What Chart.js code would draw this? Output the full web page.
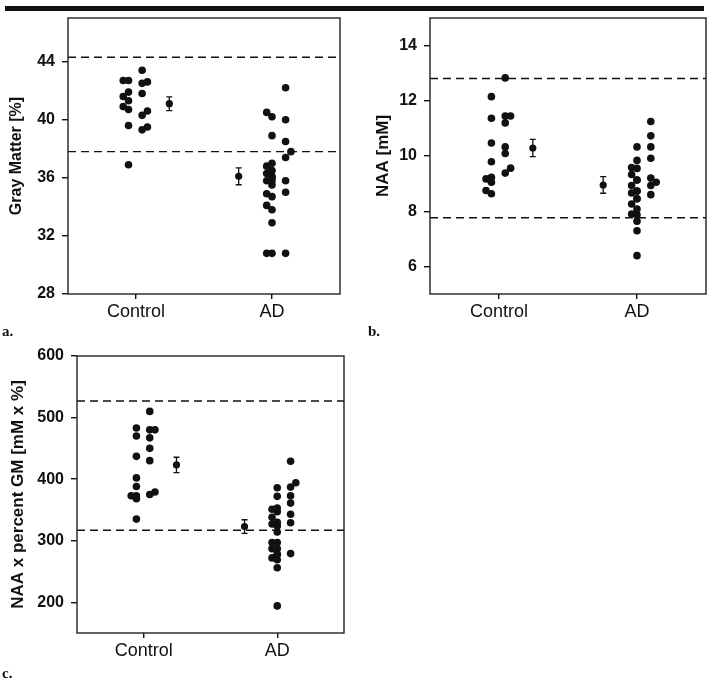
<!DOCTYPE html>
<html><head><meta charset="utf-8">
<script src="https://cdn.jsdelivr.net/npm/chart.js@4.4.1/dist/chart.umd.min.js"></script>
<style>
html,body{margin:0;padding:0;background:#fff;width:714px;height:682px;overflow:hidden;position:relative}
.bar{position:absolute;left:5px;top:6px;width:699px;height:5px;background:#111}
.panel{position:absolute}
.lab{position:absolute;font:bold 15px "Liberation Serif",serif;color:#111}
</style></head><body>
<div class="bar"></div>
<div class="panel" style="left:0;top:0"><canvas id="ca" width="350" height="330"></canvas></div>
<div class="panel" style="left:362px;top:0"><canvas id="cb" width="350" height="330"></canvas></div>
<div class="panel" style="left:0;top:338px"><canvas id="cc" width="350" height="332"></canvas></div>
<div class="lab" style="left:2px;top:323px">a.</div>
<div class="lab" style="left:368px;top:323px">b.</div>
<div class="lab" style="left:2px;top:665px">c.</div>
<script>
// ---------- data ----------
const categories = ['Control', 'AD'];

// a. Gray Matter [%]
const gmControlCol1 = [42.7, 42.7, 41.9, 41.6, 41.3, 40.9, 40.7, 39.6, 36.9];
const gmControlCol2 = [43.4, 42.6, 42.5, 41.8, 40.6, 40.3, 39.5, 39.3];
const gmADCol1 = [40.5, 40.2, 38.9, 37.0, 36.8, 36.5, 36.3, 36.1, 36.0, 35.8, 35.8, 35.5, 34.9, 34.7, 34.1, 33.8, 32.9, 30.8, 30.8];
const gmADCol2 = [42.2, 40.0, 38.5, 37.8, 37.4, 35.8, 35.0, 30.8];
const gmMean = [41.1, 36.1];
const gmErr = [0.47, 0.58];
const gmRefLines = [44.3, 37.8];
const gmTicks = [28, 32, 36, 40, 44];

// b. NAA [mM]
const naaControlCol1 = [12.15, 11.37, 10.47, 9.79, 9.23, 9.17, 9.05, 8.75, 8.63];
const naaControlCol2 = [12.83, 11.45, 11.45, 11.20, 10.33, 10.09, 9.56, 9.38];
const naaADCol1 = [10.33, 9.84, 9.58, 9.55, 9.33, 9.13, 9.13, 8.93, 8.73, 8.73, 8.66, 8.45, 8.45, 8.26, 8.08, 7.90, 7.87, 7.64, 7.29, 6.39];
const naaADCol2 = [11.25, 10.73, 10.33, 9.92, 9.20, 9.05, 8.93, 8.60];
const naaMean = [10.29, 8.95];
const naaErr = [0.31, 0.30];
const naaRefLines = [12.81, 7.76];
const naaTicks = [6, 8, 10, 12, 14];

// c. NAA x percent GM [mM x %]
const prodControlCol1 = [483, 470, 437, 402, 388, 373, 373, 368, 335];
const prodControlCol2 = [510, 480, 480, 467, 450, 430, 379, 375];
const prodADCol1 = [386, 372, 353, 351, 347, 338, 330, 327, 324, 314, 297, 297, 287, 287, 278, 278, 272, 269, 256, 194];
const prodADCol2 = [429, 394, 387, 373, 361, 343, 329, 279];
const prodMean = [423, 323];
const prodErr = [12.5, 11];
const prodRefLines = [527, 317];
const prodTicks = [200, 300, 400, 500, 600];

// ---------- drawing helpers ----------
const INK = '#111';
function swarm(values, center, base, dir, pxPerUnit) {
  const step = 0.039, thr = 6;
  const placed = [];
  return [...values].sort((a, b) => a - b).map(v => {
    let k = 0;
    for (; k < 2; k++) {
      if (!placed.some(p => p.k === k && Math.abs(p.v - v) * pxPerUnit < thr)) break;
    }
    if (k === 2) k = 0;
    placed.push({ v, k });
    return { x: center + base + dir * k * step, y: v };
  });
}

const frameErrPlugin = {
  id: 'frameErr',
  afterDatasetsDraw(chart) {
    const { ctx, chartArea: a, scales: { x, y } } = chart;
    ctx.save();
    ctx.strokeStyle = INK;
    chart.data.datasets.forEach(ds => {
      if (!ds.errors) return;
      ds.data.forEach((p, j) => {
        const px = x.getPixelForValue(p.x);
        const yt = y.getPixelForValue(p.y + ds.errors[j]);
        const yb = y.getPixelForValue(p.y - ds.errors[j]);
        ctx.lineWidth = 1.3;
        ctx.beginPath();
        ctx.moveTo(px, yt); ctx.lineTo(px, yb);
        ctx.moveTo(px - 3, yt); ctx.lineTo(px + 3, yt);
        ctx.moveTo(px - 3, yb); ctx.lineTo(px + 3, yb);
        ctx.stroke();
      });
    });
    ctx.lineWidth = 1.4;
    ctx.strokeStyle = '#222';
    ctx.strokeRect(a.left, a.top, a.right - a.left, a.bottom - a.top);
    ctx.restore();
  }
};

function makeChart(id, c) {
  const pxPerUnit = 276 / (c.max - c.min);
  const pts = [
    ...swarm(c.ctrl1, 0, -0.055, -1, pxPerUnit),
    ...swarm(c.ctrl2, 0, 0.045, 1, pxPerUnit),
    ...swarm(c.ad1, 1, 0.0, -1, pxPerUnit),
    ...swarm(c.ad2, 1, 0.1, 1, pxPerUnit)
  ];
  const datasets = c.refs.map(v => ({
    type: 'line',
    data: [{ x: -0.5, y: v }, { x: 1.5, y: v }],
    borderColor: INK, borderWidth: 1.4, borderDash: [8, 5],
    pointRadius: 0, fill: false
  }));
  datasets.push({
    type: 'scatter', data: pts,
    pointRadius: 3.8, pointBackgroundColor: INK, pointBorderWidth: 0
  });
  datasets.push({
    type: 'scatter',
    data: [{ x: 0.245, y: c.mean[0] }, { x: 1 - 0.245, y: c.mean[1] }],
    errors: c.err,
    pointRadius: 3.6, pointBackgroundColor: INK, pointBorderWidth: 0
  });
  return new Chart(document.getElementById(id), {
    type: 'scatter',
    data: { datasets },
    plugins: [frameErrPlugin],
    options: {
      responsive: false, animation: false, devicePixelRatio: 1,
      layout: { padding: c.pad },
      plugins: { legend: { display: false }, tooltip: { enabled: false } },
      scales: {
        x: {
          type: 'linear', min: -0.5, max: 1.5,
          afterBuildTicks: s => { s.ticks = [{ value: 0 }, { value: 1 }]; },
          afterFit: s => { s.height = c.xH; },
          ticks: {
            callback: v => categories[v], color: INK, padding: 2, maxRotation: 0,
            font: { family: '"Liberation Sans", Arial, sans-serif', size: 18 }
          },
          grid: { display: true, drawOnChartArea: false, drawTicks: true, tickLength: 5, color: INK, lineWidth: 1.4 },
          border: { display: false }
        },
        y: {
          type: 'linear', min: c.min, max: c.max,
          afterBuildTicks: s => { s.ticks = c.ticks.map(v => ({ value: v })); },
          afterFit: s => { s.width = c.yW; },
          ticks: {
            color: INK, padding: 7,
            font: { family: '"Liberation Sans", Arial, sans-serif', size: 16, weight: 'bold' }
          },
          grid: { display: true, drawOnChartArea: false, drawTicks: true, tickLength: 6, color: INK, lineWidth: 1.4 },
          border: { display: false },
          title: {
            display: true, text: c.title, color: INK,
            padding: { top: c.titlePad, bottom: 0 },
            font: { family: '"Liberation Sans", Arial, sans-serif', size: c.titleSize, weight: 'bold' }
          }
        }
      }
    }
  });
}

makeChart('ca', {
  ctrl1: gmControlCol1, ctrl2: gmControlCol2, ad1: gmADCol1, ad2: gmADCol2,
  mean: gmMean, err: gmErr, refs: gmRefLines, ticks: gmTicks,
  min: 28, max: 47, title: 'Gray Matter [%]', titleSize: 16, titlePad: 6.5,
  yW: 68, xH: 36, pad: { top: 18, right: 10, left: 0, bottom: 0 }
});
makeChart('cb', {
  ctrl1: naaControlCol1, ctrl2: naaControlCol2, ad1: naaADCol1, ad2: naaADCol2,
  mean: naaMean, err: naaErr, refs: naaRefLines, ticks: naaTicks,
  min: 5, max: 15, title: 'NAA [mM]', titleSize: 17, titlePad: 11.5,
  yW: 68, xH: 36, pad: { top: 18, right: 6, left: 0, bottom: 0 }
});
makeChart('cc', {
  ctrl1: prodControlCol1, ctrl2: prodControlCol2, ad1: prodADCol1, ad2: prodADCol2,
  mean: prodMean, err: prodErr, refs: prodRefLines, ticks: prodTicks,
  min: 150, max: 600, title: 'NAA x percent GM [mM x %]', titleSize: 17, titlePad: 8,
  yW: 77, xH: 37, pad: { top: 18, right: 6, left: 0, bottom: 0 }
});
</script>
</body></html>
